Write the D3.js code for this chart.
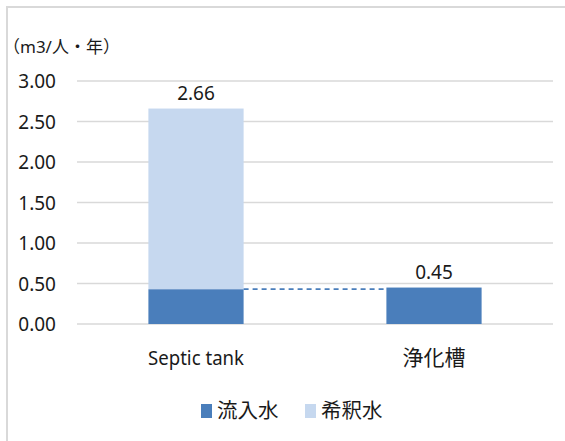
<!DOCTYPE html>
<html><head><meta charset="utf-8">
<script src="https://cdn.jsdelivr.net/npm/d3@7"></script>
<style>body{margin:0;background:#fff}svg{display:block}text{font-family:"Noto Sans","Noto Sans CJK JP",sans-serif;fill:#1a1a1a}</style>
</head><body>
<script>
const categories = ["Septic tank", "浄化槽"];
const inflow = [0.43, 0.45];      // 流入水
const dilution = [2.23, 0];       // 希釈水
const totals = ["2.66", "0.45"];
const yTicks = [0, 0.5, 1, 1.5, 2, 2.5, 3];
const seriesNames = ["流入水", "希釈水"];
const colors = ["#4a7ebb", "#c6d8ef"];

const W = 565, H = 441;
const svg = d3.select("body").append("svg").attr("width", W).attr("height", H);
// frame
svg.append("path").attr("d", `M7,${H} V7 H${W}`).attr("fill","none").attr("stroke","#d9d9d9").attr("stroke-width",2);

const x = d3.scaleBand().domain(categories).range([77, 553]).paddingInner(0.6).paddingOuter(0.3);
const y = d3.scaleLinear().domain([0, 3]).range([324, 81]);

// gridlines
svg.append("g").selectAll("line").data(yTicks).join("line")
  .attr("x1", 77).attr("x2", 553).attr("y1", d => y(d)).attr("y2", d => y(d))
  .attr("stroke", "#d9d9d9").attr("stroke-width", 1.3);

// y axis labels
const yAxis = d3.axisLeft(y).tickValues(yTicks).tickFormat(d3.format(".2f")).tickSize(0).tickPadding(0);
const ya = svg.append("g").attr("transform", "translate(56,0)").call(yAxis);
ya.select(".domain").remove();
ya.selectAll("text").style("font-size","19px").attr("fill","#1a1a1a").attr("dy","0.35em");

// stacked bars
const stackData = categories.map((c,i)=>({cat:c, inflow:inflow[i], dilution:dilution[i]}));
const stack = d3.stack().keys(["inflow","dilution"])(stackData);
svg.append("g").selectAll("g").data(stack).join("g").attr("fill",(d,i)=>colors[i])
  .selectAll("rect").data(d=>d).join("rect")
  .attr("x", d=>x(d.data.cat)).attr("width", x.bandwidth())
  .attr("y", d=>y(d[1])).attr("height", d=>y(d[0])-y(d[1]));

// dashed connector
svg.append("line")
  .attr("x1", x(categories[0]) + x.bandwidth()).attr("x2", x(categories[1]))
  .attr("y1", y(inflow[0])).attr("y2", y(inflow[0]))
  .attr("stroke", "#4a7ebb").attr("stroke-width", 1.8).attr("stroke-dasharray","5,4");

// value labels
svg.append("g").selectAll("text").data(categories).join("text")
  .attr("x", d=>x(d)+x.bandwidth()/2)
  .attr("y", (d,i)=>y(inflow[i]+dilution[i]) - 9)
  .attr("text-anchor","middle").style("font-size","19px")
  .text((d,i)=>totals[i]);

// category labels
const catSize = ["20px", "21px"];
svg.append("g").selectAll("text").data(categories).join("text")
  .attr("x", d=>x(d)+x.bandwidth()/2).attr("y", 365)
  .attr("text-anchor","middle").style("font-size",(d,i)=>catSize[i])
  .each(function(d,i){ if(i===0){ d3.select(this).attr("textLength",96).attr("lengthAdjust","spacingAndGlyphs"); } })
  .text(d=>d);

// unit label
svg.append("text").attr("x", 3).attr("y", 53).style("font-size","17px").text("（m3/人・年）");

// legend
const lg = svg.append("g");
const legendX = [201, 305];
seriesNames.forEach((n,i)=>{
  lg.append("rect").attr("x", legendX[i]).attr("y", 404).attr("width", 11).attr("height", 14).attr("fill", colors[i]);
  lg.append("text").attr("x", legendX[i]+16).attr("y", 418).style("font-size","20.5px").text(n);
});
</script>
</body></html>
